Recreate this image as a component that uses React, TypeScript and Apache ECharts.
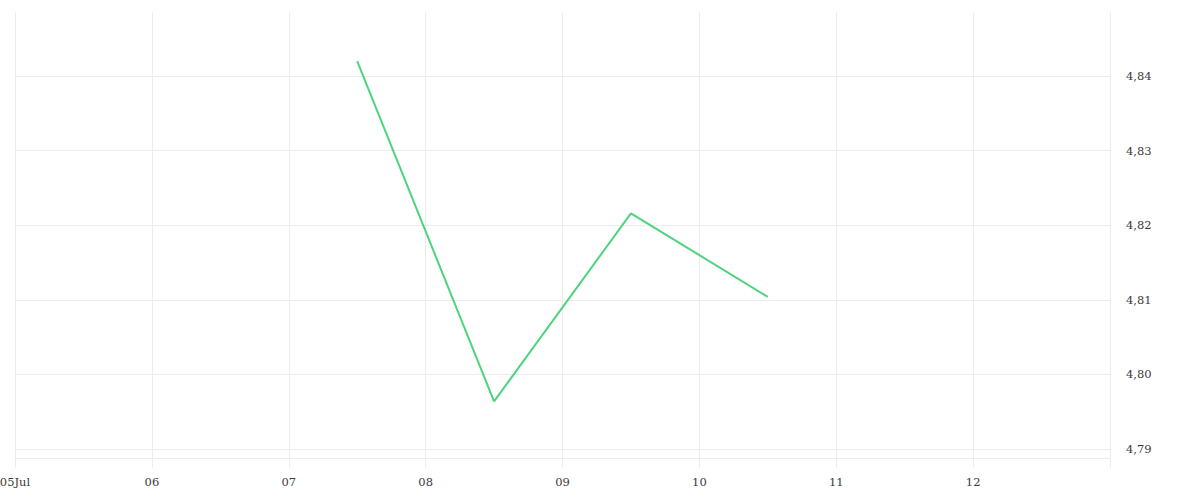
import React, { useEffect, useRef } from "react";
import * as echarts from "echarts";

const startDate = "2024-07-05";
const dayLabels = ["05Jul", "06", "07", "08", "09", "10", "11", "12", ""];
const pointDates = ["2024-07-07T12:00:00Z", "2024-07-08T12:00:00Z", "2024-07-09T12:00:00Z", "2024-07-10T12:00:00Z"];
const pointValues = [4.842, 4.7964, 4.8216, 4.8104];
const yGridValues = [4.79, 4.8, 4.81, 4.82, 4.83, 4.84];
const yMin = 4.7888;
const yMax = 4.8486;

const DAY = 86400000;
const FONT = "'DejaVu Serif', serif";

export default function App() {
  const ref = useRef<HTMLDivElement>(null);
  useEffect(() => {
    document.body.style.margin = "0";
    if (!ref.current) return;
    const chart = echarts.init(ref.current, null, { renderer: "svg" });
    const t0 = Date.parse(startDate + "T00:00:00Z");
    const data = pointDates.map((d, i) => [(Date.parse(d) - t0) / DAY, pointValues[i]]);
    chart.setOption({
      animation: false,
      grid: { left: 15, right: 90, top: 12, bottom: 42, containLabel: false, outerBoundsMode: "none" },
      xAxis: {
        type: "value",
        min: 0,
        max: 8,
        interval: 1,
        axisLine: { show: true, lineStyle: { color: "#ececec", width: 1 } },
        axisTick: { show: true, length: 10, lineStyle: { color: "#ececec" } },
        splitLine: { show: true, lineStyle: { color: "#ececec", width: 1 } },
        axisLabel: {
          margin: 18,
          color: "#3a3a3a",
          fontFamily: FONT,
          fontSize: 11.5,
          formatter: (v: number) => dayLabels[Math.round(v)] ?? "",
        },
      },
      yAxis: {
        type: "value",
        position: "right",
        min: yMin,
        max: yMax,
        splitNumber: 5,
        axisLine: { show: false },
        axisTick: { show: false },
        splitLine: { show: false },
        axisLabel: {
          margin: 16,
          color: "#3a3a3a",
          fontFamily: FONT,
          fontSize: 11.5,
          showMinLabel: false,
          showMaxLabel: false,
          verticalAlign: "middle",
          padding: [3, 0, 0, 0],
          formatter: (v: number) => v.toFixed(2).replace(".", ","),
        },
      },
      series: [
        {
          type: "line",
          data: [],
          z: 1,
          silent: true,
          markLine: {
            z: 0,
            silent: true,
            symbol: "none",
            label: { show: false },
            lineStyle: { color: "#ececec", width: 1, type: "solid" },
            data: yGridValues.map((v) => ({ yAxis: v })),
          },
        },
        {
          type: "line",
          data,
          z: 3,
          showSymbol: false,
          symbol: "none",
          lineStyle: { color: "#4dd47c", width: 2 },
        },
      ],
    });
    return () => chart.dispose();
  }, []);
  return <div ref={ref} style={{ width: 1200, height: 500 }} />;
}
